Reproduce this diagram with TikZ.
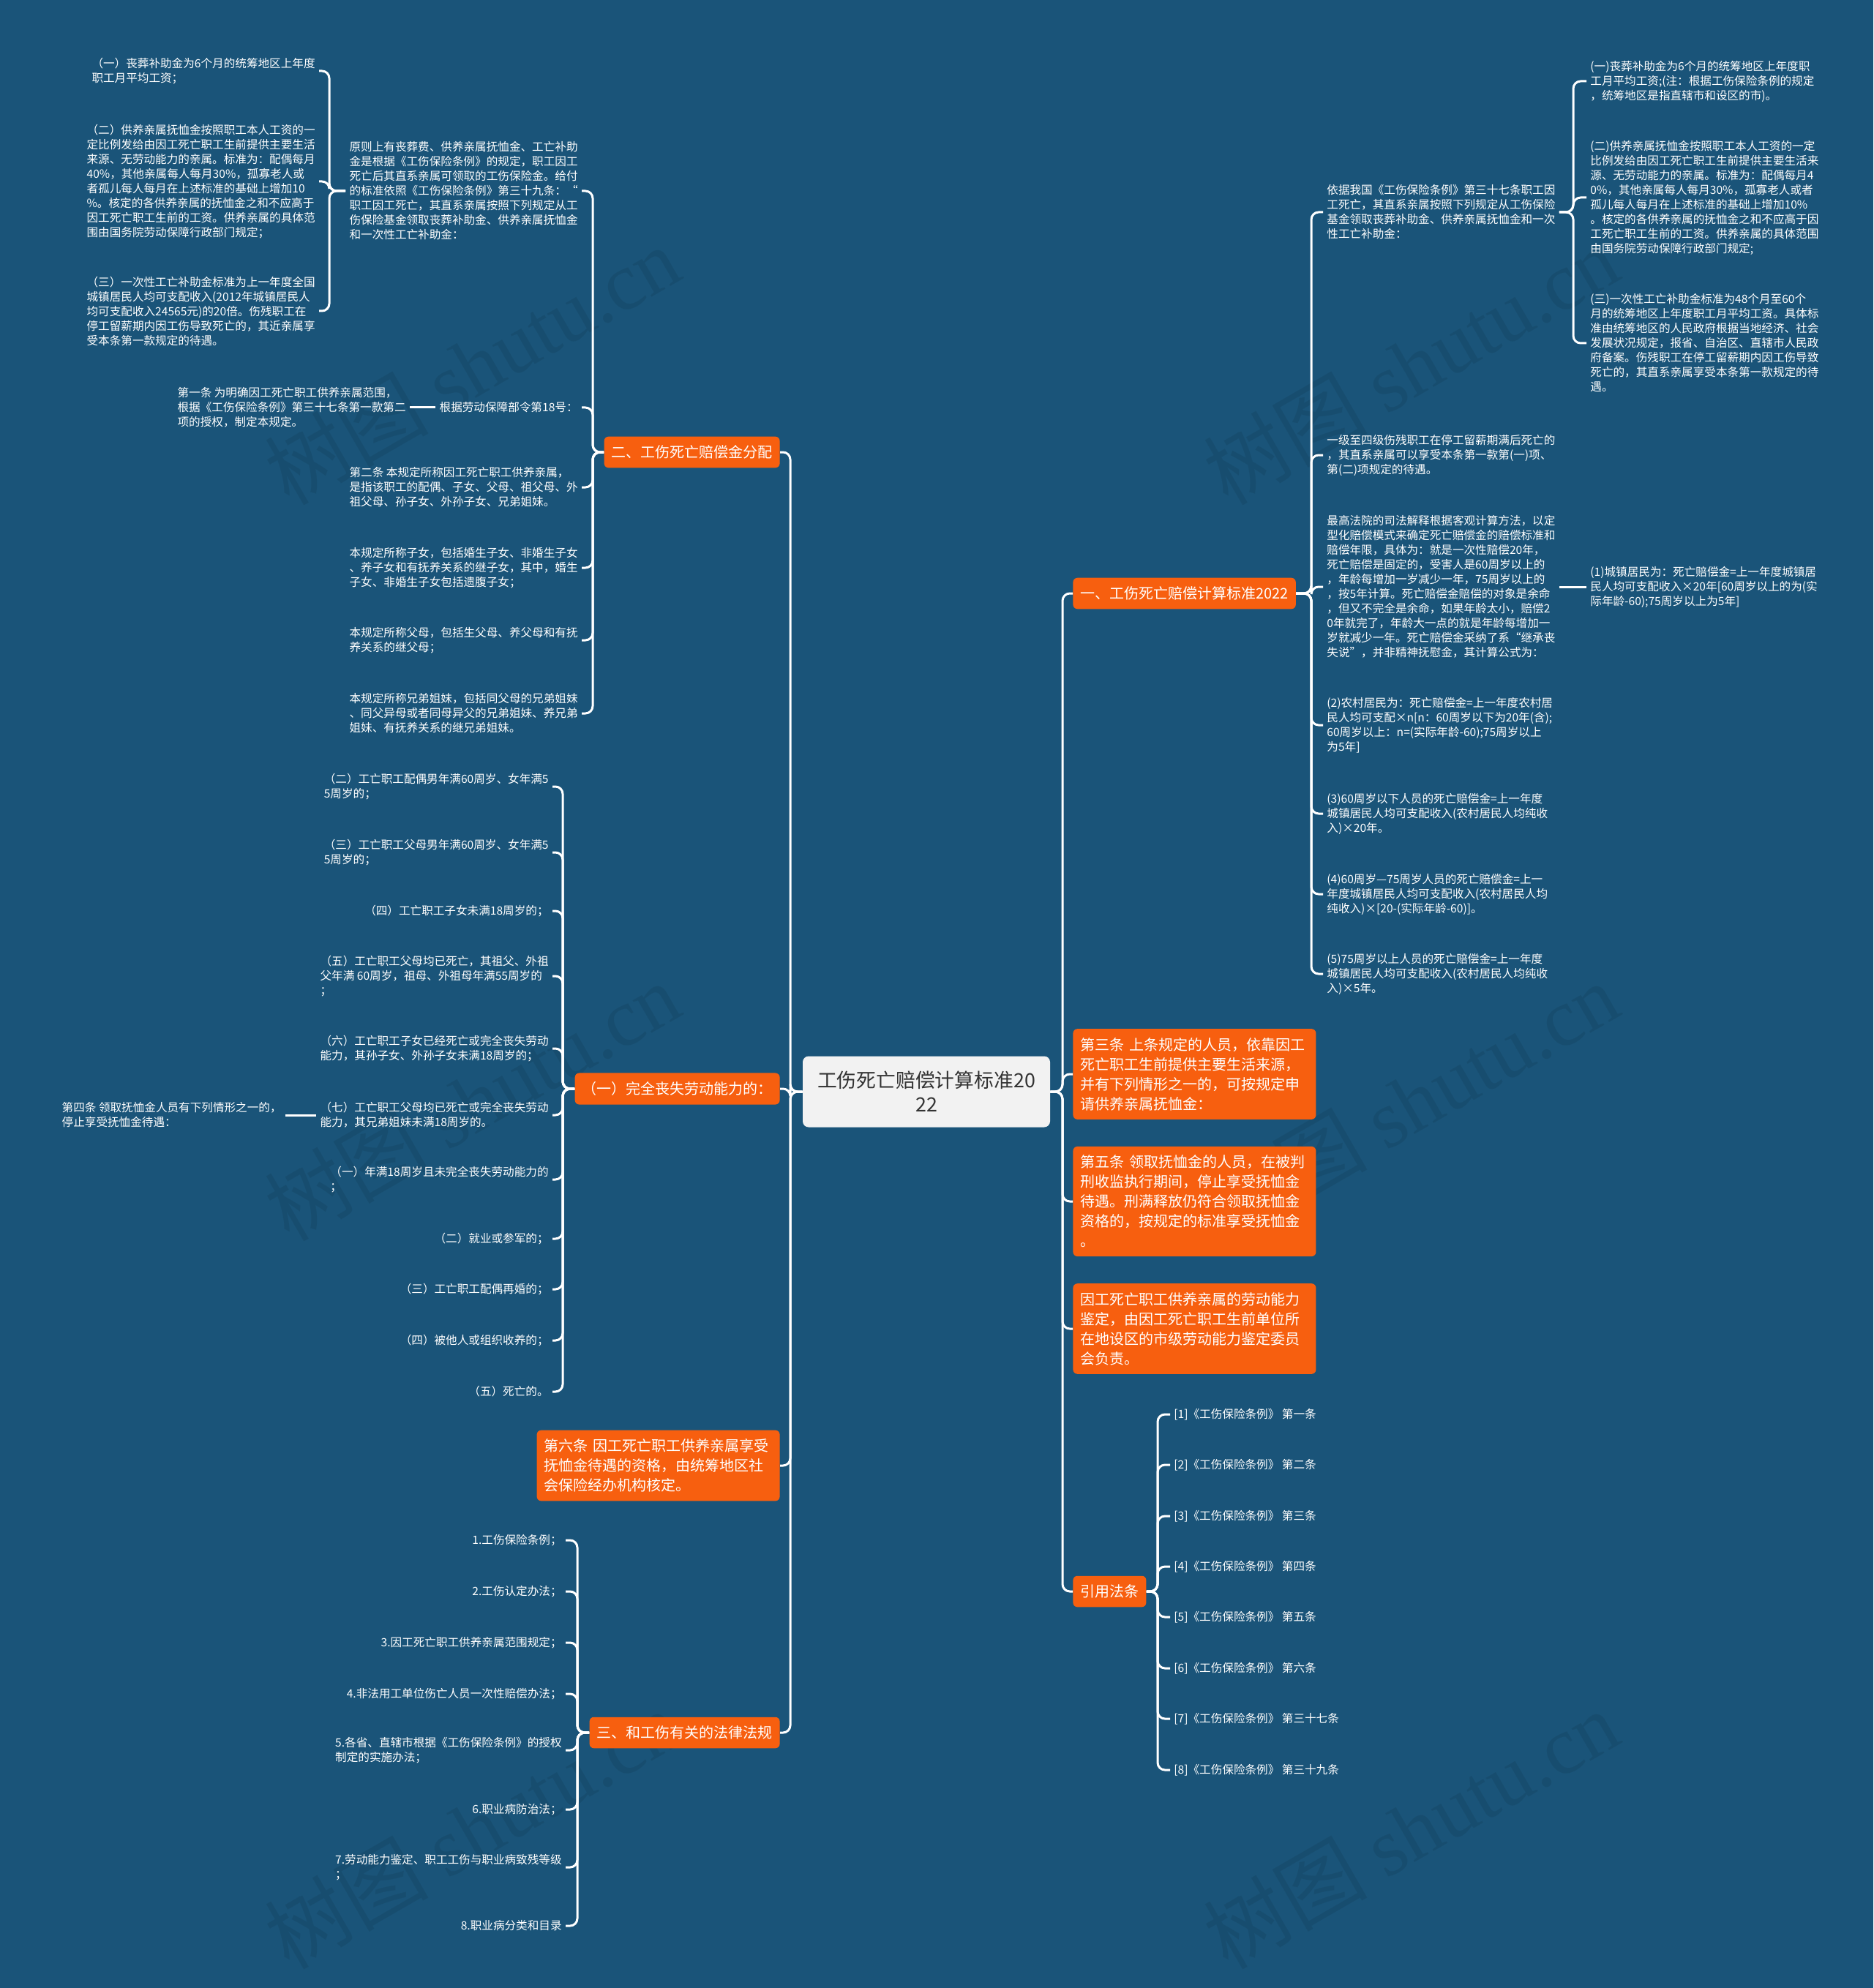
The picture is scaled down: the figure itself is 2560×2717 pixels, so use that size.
\documentclass[tikz,border=0pt]{standalone}
\usepackage{fontspec}
\setmainfont{Noto Sans CJK SC}
\newfontfamily\wmfont{Liberation Serif}
\usetikzlibrary{calc}
\definecolor{bg}{HTML}{1A5479}
\definecolor{orng}{HTML}{F75F0F}
\definecolor{cfill}{HTML}{F2F2F2}
\definecolor{ctext}{HTML}{333333}
\begin{document}
\begin{tikzpicture}[x=0.5pt,y=-0.5pt,
 txt/.style={font=\fontsize{7.8}{10}\selectfont,text=white,align=left,inner xsep=2.5pt,inner ysep=1pt},
 lt/.style={txt,anchor=east},
 rt/.style={txt,anchor=west},
 obox/.style={fill=orng,rounded corners=3pt,text=white,font=\fontsize{10}{13.5}\selectfont,align=left,inner xsep=5pt,inner ysep=6pt},
 wbox/.style={obox,text width=156pt},
 conn/.style={draw=white,line width=1.5pt,rounded corners=5pt},
 wm/.style={opacity=0.08,text=black,rotate=30,font=\fontsize{56}{56}\selectfont}]
\useasboundingbox (0,0) rectangle (2560,2717);
\fill[bg] (0,0) rectangle (2560,2717);

% watermarks
\foreach \wx/\wy in {645/499,645/1505,645/2500,1928/499,1928/1505,1928/2500}
  \node[wm] at (\wx,\wy) {树图 {\wmfont shutu.cn}};

% center
\node[fill=cfill,rounded corners=4pt,text=ctext,font=\fontsize{13.4}{16.5}\selectfont,align=center,minimum width=169pt,minimum height=48.5pt,inner sep=2pt] (root) at (1266,1492) {工伤死亡赔偿计算标准20\\22};

% right main branches
\node[obox,anchor=west] (b1) at (1466,811) {一、工伤死亡赔偿计算标准2022};
\node[wbox,anchor=west] (b3) at (1466,1468) {第三条 上条规定的人员，依靠因工\\死亡职工生前提供主要生活来源，\\并有下列情形之一的，可按规定申\\请供养亲属抚恤金：};
\node[wbox,anchor=west] (b5) at (1466,1642) {第五条 领取抚恤金的人员，在被判\\刑收监执行期间，停止享受抚恤金\\待遇。刑满释放仍符合领取抚恤金\\资格的，按规定的标准享受抚恤金\\。};
\node[wbox,anchor=west] (b6) at (1466,1816) {因工死亡职工供养亲属的劳动能力\\鉴定，由因工死亡职工生前单位所\\在地设区的市级劳动能力鉴定委员\\会负责。};
\node[obox,anchor=west] (b7) at (1466,2175) {引用法条};

% B1 children
\node[rt] (r1) at (1808,290) {依据我国《工伤保险条例》第三十七条职工因\\工死亡，其直系亲属按照下列规定从工伤保险\\基金领取丧葬补助金、供养亲属抚恤金和一次\\性工亡补助金：};
\node[rt] (r2) at (1808,622) {一级至四级伤残职工在停工留薪期满后死亡的\\，其直系亲属可以享受本条第一款第(一)项、\\第(二)项规定的待遇。};
\node[rt] (r3) at (1808,802) {最高法院的司法解释根据客观计算方法，以定\\型化赔偿模式来确定死亡赔偿金的赔偿标准和\\赔偿年限，具体为：就是一次性赔偿20年，\\死亡赔偿是固定的，受害人是60周岁以上的\\，年龄每增加一岁减少一年，75周岁以上的\\，按5年计算。死亡赔偿金赔偿的对象是余命\\，但又不完全是余命，如果年龄太小，赔偿2\\0年就完了，年龄大一点的就是年龄每增加一\\岁就减少一年。死亡赔偿金采纳了系“继承丧\\失说”，并非精神抚慰金，其计算公式为：};
\node[rt] (r4) at (1808,991) {(2)农村居民为：死亡赔偿金=上一年度农村居\\民人均可支配×n[n：60周岁以下为20年(含);\\60周岁以上：n=(实际年龄-60);75周岁以上\\为5年]};
\node[rt] (r5) at (1808,1112) {(3)60周岁以下人员的死亡赔偿金=上一年度\\城镇居民人均可支配收入(农村居民人均纯收\\入)×20年。};
\node[rt] (r6) at (1808,1222) {(4)60周岁—75周岁人员的死亡赔偿金=上一\\年度城镇居民人均可支配收入(农村居民人均\\纯收入)×[20-(实际年龄-60)]。};
\node[rt] (r7) at (1808,1331) {(5)75周岁以上人员的死亡赔偿金=上一年度\\城镇居民人均可支配收入(农村居民人均纯收\\入)×5年。};

\node[rt] (r1a) at (2168,111) {(一)丧葬补助金为6个月的统筹地区上年度职\\工月平均工资;(注：根据工伤保险条例的规定\\，统筹地区是指直辖市和设区的市)。};
\node[rt] (r1b) at (2168,270) {(二)供养亲属抚恤金按照职工本人工资的一定\\比例发给由因工死亡职工生前提供主要生活来\\源、无劳动能力的亲属。标准为：配偶每月4\\0\%，其他亲属每人每月30\%，孤寡老人或者\\孤儿每人每月在上述标准的基础上增加10\%\\。核定的各供养亲属的抚恤金之和不应高于因\\工死亡职工生前的工资。供养亲属的具体范围\\由国务院劳动保障行政部门规定;};
\node[rt] (r1c) at (2168,469) {(三)一次性工亡补助金标准为48个月至60个\\月的统筹地区上年度职工月平均工资。具体标\\准由统筹地区的人民政府根据当地经济、社会\\发展状况规定，报省、自治区、直辖市人民政\\府备案。伤残职工在停工留薪期内因工伤导致\\死亡的，其直系亲属享受本条第一款规定的待\\遇。};
\node[rt] (r3a) at (2168,802) {(1)城镇居民为：死亡赔偿金=上一年度城镇居\\民人均可支配收入×20年[60周岁以上的为(实\\际年龄-60);75周岁以上为5年]};

% B7 children
\node[rt] (c1) at (1599,1933) {[1]《工伤保险条例》 第一条};
\node[rt] (c2) at (1599,2002) {[2]《工伤保险条例》 第二条};
\node[rt] (c3) at (1599,2072) {[3]《工伤保险条例》 第三条};
\node[rt] (c4) at (1599,2141) {[4]《工伤保险条例》 第四条};
\node[rt] (c5) at (1599,2210) {[5]《工伤保险条例》 第五条};
\node[rt] (c6) at (1599,2280) {[6]《工伤保险条例》 第六条};
\node[rt] (c7) at (1599,2349) {[7]《工伤保险条例》 第三十七条};
\node[rt] (c8) at (1599,2419) {[8]《工伤保险条例》 第三十九条};

% left main branches
\node[obox,anchor=east] (l1) at (1066,618) {二、工伤死亡赔偿金分配};
\node[obox,anchor=east] (l2) at (1066,1488) {（一）完全丧失劳动能力的：};
\node[wbox,anchor=east] (l3) at (1066,2003) {第六条 因工死亡职工供养亲属享受\\抚恤金待遇的资格，由统筹地区社\\会保险经办机构核定。};
\node[obox,anchor=east] (l4) at (1066,2368) {三、和工伤有关的法律法规};

% L1 children
\node[lt] (l1a) at (795,261) {原则上有丧葬费、供养亲属抚恤金、工亡补助\\金是根据《工伤保险条例》的规定，职工因工\\死亡后其直系亲属可领取的工伤保险金。给付\\的标准依照《工伤保险条例》第三十九条：“\\职工因工死亡，其直系亲属按照下列规定从工\\伤保险基金领取丧葬补助金、供养亲属抚恤金\\和一次性工亡补助金：};
\node[lt] (l1b) at (795,557) {根据劳动保障部令第18号：};
\node[lt] (l1c) at (795,666) {第二条 本规定所称因工死亡职工供养亲属，\\是指该职工的配偶、子女、父母、祖父母、外\\祖父母、孙子女、外孙子女、兄弟姐妹。};
\node[lt] (l1d) at (795,776) {本规定所称子女，包括婚生子女、非婚生子女\\、养子女和有抚养关系的继子女，其中，婚生\\子女、非婚生子女包括遗腹子女；};
\node[lt] (l1e) at (795,875) {本规定所称父母，包括生父母、养父母和有抚\\养关系的继父母；};
\node[lt] (l1f) at (795,975) {本规定所称兄弟姐妹，包括同父母的兄弟姐妹\\、同父异母或者同母异父的兄弟姐妹、养兄弟\\姐妹、有抚养关系的继兄弟姐妹。};

\node[lt] (l1a1) at (436,97) {（一）丧葬补助金为6个月的统筹地区上年度\\职工月平均工资；};
\node[lt] (l1a2) at (436,248) {（二）供养亲属抚恤金按照职工本人工资的一\\定比例发给由因工死亡职工生前提供主要生活\\来源、无劳动能力的亲属。标准为：配偶每月\\40\%，其他亲属每人每月30\%，孤寡老人或\\者孤儿每人每月在上述标准的基础上增加10\\\%。核定的各供养亲属的抚恤金之和不应高于\\因工死亡职工生前的工资。供养亲属的具体范\\围由国务院劳动保障行政部门规定；};
\node[lt] (l1a3) at (436,425) {（三）一次性工亡补助金标准为上一年度全国\\城镇居民人均可支配收入(2012年城镇居民人\\均可支配收入24565元)的20倍。伤残职工在\\停工留薪期内因工伤导致死亡的，其近亲属享\\受本条第一款规定的待遇。};
\node[lt] (l1b1) at (560,557) {第一条 为明确因工死亡职工供养亲属范围，\\根据《工伤保险条例》第三十七条第一款第二\\项的授权，制定本规定。};

% L2 children
\node[lt] (l2a) at (755,1075) {（二）工亡职工配偶男年满60周岁、女年满5\\5周岁的；};
\node[lt] (l2b) at (755,1165) {（三）工亡职工父母男年满60周岁、女年满5\\5周岁的；};
\node[lt] (l2c) at (755,1245) {（四）工亡职工子女未满18周岁的；};
\node[lt] (l2d) at (755,1334) {（五）工亡职工父母均已死亡，其祖父、外祖\\父年满 60周岁，祖母、外祖母年满55周岁的\\；};
\node[lt] (l2e) at (755,1433) {（六）工亡职工子女已经死亡或完全丧失劳动\\能力，其孙子女、外孙子女未满18周岁的；};
\node[lt] (l2f) at (755,1524) {（七）工亡职工父母均已死亡或完全丧失劳动\\能力，其兄弟姐妹未满18周岁的。};
\node[lt] (l2g) at (755,1612) {（一）年满18周岁且未完全丧失劳动能力的\\；};
\node[lt] (l2h) at (755,1693) {（二）就业或参军的；};
\node[lt] (l2i) at (755,1762) {（三）工亡职工配偶再婚的；};
\node[lt] (l2j) at (755,1832) {（四）被他人或组织收养的；};
\node[lt] (l2k) at (755,1902) {（五）死亡的。};
\node[lt] (s4) at (390,1524) {第四条 领取抚恤金人员有下列情形之一的，\\停止享受抚恤金待遇：};

% L4 children
\node[lt] (m1) at (773,2105) {1.工伤保险条例；};
\node[lt] (m2) at (773,2175) {2.工伤认定办法；};
\node[lt] (m3) at (773,2245) {3.因工死亡职工供养亲属范围规定；};
\node[lt] (m4) at (773,2315) {4.非法用工单位伤亡人员一次性赔偿办法；};
\node[lt] (m5) at (773,2392) {5.各省、直辖市根据《工伤保险条例》的授权\\制定的实施办法；};
\node[lt] (m6) at (773,2473) {6.职业病防治法；};
\node[lt] (m7) at (773,2552) {7.劳动能力鉴定、职工工伤与职业病致残等级\\；};
\node[lt] (m8) at (773,2632) {8.职业病分类和目录};

% bracket x positions
\coordinate (tr) at (1452,0);
\coordinate (tl) at (1080,0);
\coordinate (k1) at (1792,0);
\coordinate (k2) at (2150,0);
\coordinate (k3) at (1582,0);
\coordinate (k4) at (810,0);
\coordinate (k5) at (450,0);
\coordinate (k6) at (769,0);
\coordinate (k7) at (789,0);

% connectors
\foreach \n in {b1,b3,b5,b6,b7}
  \draw[conn] (root.east) -- (root.east -| tr) |- (\n.west);
\foreach \n in {l1,l2,l3,l4}
  \draw[conn] (root.west) -- (root.west -| tl) |- (\n.east);
\foreach \n in {r1,r2,r3,r4,r5,r6,r7}
  \draw[conn] (b1.east) -- (b1.east -| k1) |- (\n.west);
\foreach \n in {r1a,r1b,r1c}
  \draw[conn] (r1.east) -- (r1.east -| k2) |- (\n.west);
\draw[conn] (r3.east) -- (r3a.west);
\foreach \n in {c1,c2,c3,c4,c5,c6,c7,c8}
  \draw[conn] (b7.east) -- (b7.east -| k3) |- (\n.west);
\foreach \n in {l1a,l1b,l1c,l1d,l1e,l1f}
  \draw[conn] (l1.west) -- (l1.west -| k4) |- (\n.east);
\foreach \n in {l1a1,l1a2,l1a3}
  \draw[conn] (l1a.west) -- (l1a.west -| k5) |- (\n.east);
\draw[conn] (l1b.west) -- (l1b1.east);
\foreach \n in {l2a,l2b,l2c,l2d,l2e,l2f,l2g,l2h,l2i,l2j,l2k}
  \draw[conn] (l2.west) -- (l2.west -| k6) |- (\n.east);
\draw[conn] (l2f.west) -- (s4.east);
\foreach \n in {m1,m2,m3,m4,m5,m6,m7,m8}
  \draw[conn] (l4.west) -- (l4.west -| k7) |- (\n.east);
\end{tikzpicture}
\end{document}
